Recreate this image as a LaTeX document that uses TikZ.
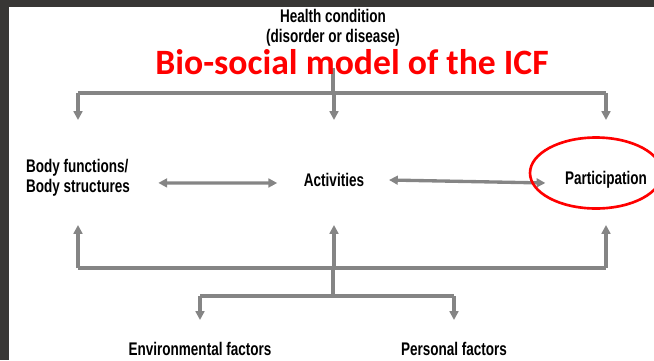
\documentclass[tikz,border=0pt]{standalone}
\usepackage{fontspec}
\usetikzlibrary{arrows.meta}
\newfontfamily\lblfont{Liberation Sans}[FakeStretch=0.74]
\newfontfamily\ttlfont{Carlito}
\definecolor{linegray}{HTML}{858585}
\definecolor{frame}{HTML}{383735}
\definecolor{titlered}{HTML}{FF0000}
\tikzset{
  lbl/.style={font=\lblfont\bfseries\fontsize{10.4}{11.3}\selectfont, inner sep=1pt},
  gline/.style={draw=linegray, line width=1.9pt},
  garr/.style={gline, -{Triangle[width=5pt,length=5pt]}},
  twoway/.style={gline, {Triangle[width=5pt,length=5pt]}-{Triangle[width=5pt,length=5pt]}}
}
\begin{document}
\begin{tikzpicture}[x=0.02cm, y=-0.02cm]
\useasboundingbox (0,0) rectangle (654,360);
% dark edges of the slide
\fill[frame] (0,0) rectangle (654,7);
\fill[frame] (0,0) rectangle (9,360);

\node[lbl, align=center] (hc) at (333,28) {Health condition\\(disorder or disease)};

\node[lbl, align=left] (body) at (78,178) {Body functions/\\Body structures};
\node[lbl] (act) at (334,180) {Activities};
\node[lbl] (part) at (606,180) {Participation};

\node[lbl] (env) at (200,349) {Environmental factors};
\node[lbl] (pers) at (454,349) {Personal factors};

% top branch
\coordinate (tb) at (333,93);
\draw[gline] (333,68) -- (tb);
\draw[gline] (body |- tb) -- (part |- tb);
\foreach \n in {body,act,part}
  \draw[garr] (\n |- tb) -- ++(0,27);

% middle row
\draw[twoway] ([xshift=15pt,yshift=-2.8pt]body.east) -- ([xshift=-14pt,yshift=-1.7pt]act.west);
\draw[twoway] ([xshift=13pt]act.east) -- ([xshift=-10pt,yshift=-1.7pt]part.west);

% bottom branch
\coordinate (bb) at (333,268);
\coordinate (lb) at (333,296);
\foreach \n in {body,act,part}
  \draw[garr] (\n |- bb) -- ++(0,-43);
\draw[gline] (body |- bb) -- (part |- bb);
\draw[gline] (bb) -- (lb);
\draw[gline] (env |- lb) -- (pers |- lb);
\foreach \n in {env,pers}
  \draw[garr] (\n |- lb) -- ++(0,24);

\node[font=\ttlfont\bfseries\fontsize{20.3}{24}\selectfont, text=titlered, inner sep=0pt] (title) at (352,62) {Bio-social model of the ICF};

\draw[titlered, line width=1.5pt] (part) ++(-10,-7) ellipse [x radius=1.32cm, y radius=0.71cm];
\end{tikzpicture}
\end{document}
